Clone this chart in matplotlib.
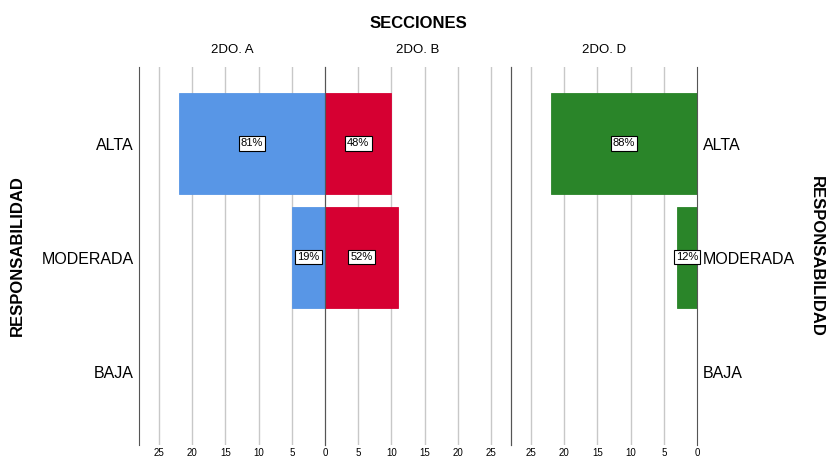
import numpy as np
import matplotlib
matplotlib.use('Agg')
from matplotlib import pyplot as plt

plt.rcParams['font.family'] = ['Liberation Sans', 'DejaVu Sans']

categories = ['ALTA', 'MODERADA', 'BAJA']
sections = ['2DO. A', '2DO. B', '2DO. D']
counts_a = [22, 5, 0]
counts_b = [10, 11, 0]
counts_d = [22, 3, 0]
colors = ['#5896e6', '#d60032', '#2a8529']
ticks = [0, 5, 10, 15, 20, 25]


def pct_labels(counts):
    total = float(sum(counts))
    return ['%d%%' % round(100 * c / total) if c > 0 else '' for c in counts]


fig = plt.figure(figsize=(8.27, 4.59), dpi=100)
fig.patch.set_facecolor('white')

W, H = 827.0, 459.0
top, bottom = 67, 445
lefts = [139, 325, 511]
width = 186
ypos = np.arange(len(categories))
ylo, yhi = 2.65, -0.67

panels = [counts_a, counts_b, counts_d]
mirrored = [True, False, True]
axes = []
for i, (counts, flip) in enumerate(zip(panels, mirrored)):
    ax = fig.add_axes([lefts[i] / W, 1 - bottom / H, width / W, (bottom - top) / H])
    for t in ticks[1:]:
        ax.axvline(t, color='#c8c8c8', lw=1, zorder=0)
    ax.barh(ypos, counts, height=0.885, color=colors[i], edgecolor=colors[i],
            linewidth=0.6, zorder=2)
    for y, c, lab in zip(ypos, counts, pct_labels(counts)):
        if c > 0:
            ax.text(c / 2.0, y, lab, ha='center', va='center', fontsize=8,
                    bbox=dict(boxstyle='square,pad=0.2', fc='white', ec='black', lw=0.8),
                    zorder=5)
    if flip:
        ax.set_xlim(28, 0)
    else:
        ax.set_xlim(0, 28)
    ax.set_ylim(ylo, yhi)
    # the shared 0 is drawn once, by the middle panel
    shown = ticks if i == 1 else ticks[1:]
    ax.set_xticks(shown)
    ax.set_xticklabels([str(t) for t in shown], fontsize=7)
    ax.tick_params(axis='x', length=0, pad=2)
    ax.set_yticks([])
    for s in ['top', 'bottom']:
        ax.spines[s].set_visible(False)
    ax.spines['left'].set_color('#555555')
    ax.spines['right'].set_color('#555555')
    ax.set_facecolor('none')
    ax.text(0.5, 1.03, sections[i], transform=ax.transAxes, ha='center',
            va='bottom', fontsize=9.5)
    axes.append(ax)

# panel D ends at 0 on its right edge
axes[2].set_xticks(ticks)
axes[2].set_xticklabels([str(t) for t in ticks], fontsize=7)

# category labels on both sides
for y, cat in zip(ypos, categories):
    yf = (ylo - y) / (ylo - yhi) - 0.006
    axes[0].text(-0.03, yf, cat, transform=axes[0].transAxes,
                 ha='right', va='center', fontsize=11.5)
    axes[2].text(1.03, yf, cat, transform=axes[2].transAxes,
                 ha='left', va='center', fontsize=11.5)

fig.text(418 / W, 1 - 24 / H, 'SECCIONES', ha='center', va='center',
         fontsize=12, fontweight='bold')
fig.text(17 / W, 1 - 256 / H, 'RESPONSABILIDAD', ha='center', va='center',
         rotation=90, fontsize=12, fontweight='bold')
fig.text(816 / W, 1 - 256 / H, 'RESPONSABILIDAD', ha='center', va='center',
         rotation=270, fontsize=12, fontweight='bold')

plt.savefig('out.png', dpi=100)
